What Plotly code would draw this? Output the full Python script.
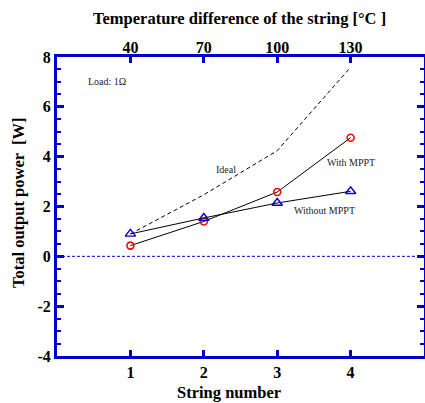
import plotly.graph_objects as go

string_number = [1, 2, 3, 4]
temp_diff_labels = ["40", "70", "100", "130"]
with_mppt = [0.43, 1.40, 2.58, 4.76]
without_mppt = [0.90, 1.54, 2.14, 2.61]
ideal = [0.90, 2.47, 4.24, 7.59]
y_ticks = [-4, -2, 0, 2, 4, 6, 8]

BLUE = "#0000cc"
SERIF = "Liberation Serif, Times New Roman, serif"
W, H = 425, 403
L, R, T, B = 57, 1, 57, 47
PW, PH = W - L - R, H - T - B


def px_x(p):
    return (p - L) / PW


def px_y(p):
    return (H - B - p) / PH


fig = go.Figure()

fig.add_trace(go.Scatter(x=[0, 5], y=[0, 0], mode="lines",
                         line=dict(color=BLUE, width=1, dash="3px,2px"),
                         showlegend=False, hoverinfo="skip"))
fig.add_trace(go.Scatter(x=string_number, y=ideal, mode="lines",
                         line=dict(color="black", width=1, dash="4px,3px"),
                         showlegend=False))
fig.add_trace(go.Scatter(x=string_number, y=with_mppt, mode="lines+markers",
                         line=dict(color="black", width=1),
                         marker=dict(symbol="circle-open", size=7, color="red",
                                     line=dict(width=1.6, color="red")),
                         showlegend=False))
fig.add_trace(go.Scatter(x=string_number, y=without_mppt, mode="lines+markers",
                         line=dict(color="black", width=1),
                         marker=dict(symbol="triangle-up-open", size=9, color=BLUE,
                                     line=dict(width=1.4, color=BLUE)),
                         showlegend=False))
# dummy trace for top axis
fig.add_trace(go.Scatter(x=[40, 130], y=[None, None], xaxis="x2", mode="markers",
                         showlegend=False, hoverinfo="skip"))

tickfont = dict(size=16, family=SERIF, weight="bold", color="black")
fig.update_layout(
    width=W, height=H,
    margin=dict(l=L, r=R, t=T, b=B, autoexpand=False),
    plot_bgcolor="white", paper_bgcolor="white",
    font=dict(family=SERIF, color="black"),
    xaxis=dict(range=[0, 5], tickvals=string_number,
               ticktext=[str(v) for v in string_number],
               ticks="inside", ticklen=6, tickwidth=3, tickcolor=BLUE,
               showline=True, linecolor=BLUE, linewidth=3, mirror="ticks",
               showgrid=False, zeroline=False, automargin=False,
               tickfont=tickfont),
    xaxis2=dict(range=[10, 160], overlaying="x", side="top",
                tickvals=[40, 70, 100, 130], ticktext=temp_diff_labels,
                ticks="", showline=False, showgrid=False, zeroline=False,
                automargin=False, tickfont=tickfont),
    yaxis=dict(range=[-4, 8], tickvals=y_ticks,
               ticktext=[str(v) for v in y_ticks],
               ticks="inside", ticklen=7, tickwidth=3, tickcolor=BLUE,
               minor=dict(dtick=0.5, ticks="inside", ticklen=4, tickwidth=2,
                          tickcolor=BLUE, showgrid=False),
               showline=True, linecolor=BLUE, linewidth=3, mirror="ticks",
               showgrid=False, zeroline=False, automargin=False,
               tickfont=tickfont),
)

title_font = dict(size=16.5, family=SERIF, color="black", weight="bold")
fig.add_annotation(xref="paper", yref="paper", x=px_x(239), y=px_y(18),
                   text="Temperature difference of the string [°C ]",
                   showarrow=False, font=title_font, yanchor="middle")
fig.add_annotation(xref="paper", yref="paper", x=px_x(229), y=px_y(392),
                   text="String number", showarrow=False, font=title_font,
                   yanchor="middle")
fig.add_annotation(xref="paper", yref="paper", x=px_x(18), y=px_y(203),
                   text="Total output power  [W]", textangle=-90,
                   showarrow=False, font=title_font, xanchor="center", yanchor="middle")

ann_font = dict(size=10, family=SERIF, color="#222222")
fig.add_annotation(x=0.4, y=7.0, text="Load: 1Ω", showarrow=False, xanchor="left",
                   font=ann_font)
fig.add_annotation(x=2.14, y=3.5, text="Ideal", showarrow=False, xanchor="left",
                   font=ann_font)
fig.add_annotation(x=3.65, y=3.75, text="With MPPT", showarrow=False, xanchor="left",
                   font=ann_font)
fig.add_annotation(x=3.2, y=1.84, text="Without MPPT", showarrow=False, xanchor="left",
                   font=ann_font)

fig.write_html("out.html", config={"displayModeBar": False},
               post_script="document.body.style.margin='0';document.body.style.padding='0';")
